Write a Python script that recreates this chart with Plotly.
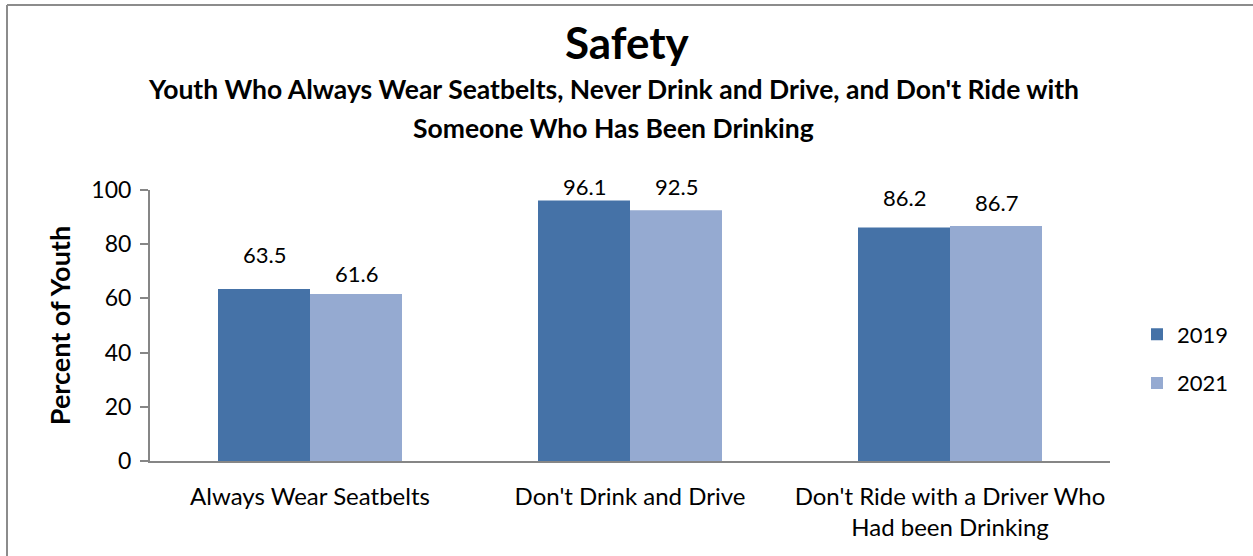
import plotly.graph_objects as go

categories = ["Always Wear Seatbelts", "Don't Drink and Drive", "Don't Ride with a Driver Who<br>Had been Drinking"]
series_names = ["2019", "2021"]
values_2019 = [63.5, 96.1, 86.2]
values_2021 = [61.6, 92.5, 86.7]
y_ticks = [0, 20, 40, 60, 80, 100]

colors = {"2019": "#4572A7", "2021": "#95AAD1"}
FONT = "Lato, 'Open Sans', sans-serif"

# label offsets above bar tops (pixels), styling only
label_lift_2019 = [34, 14, 30]
label_lift_2021 = [21, 24, 24]

# plot-area geometry (pixels)
L, R, T, B = 150, 1110, 190, 461
PH = B - T
PW = R - L

def py(pix):
    return (B - pix) / PH

def px(pix):
    return (pix - L) / PW

fig = go.Figure()
for name, vals in zip(series_names, [values_2019, values_2021]):
    fig.add_trace(go.Bar(
        x=categories, y=vals, name=name,
        marker=dict(color=colors[name], line=dict(width=0)),
        legendgroup=name,
    ))

annotations = []
for vals, lifts, shift in [(values_2019, label_lift_2019, -46), (values_2021, label_lift_2021, 46)]:
    for c, v, lift in zip(categories, vals, lifts):
        annotations.append(dict(
            x=c, y=v, xref="x", yref="y", text=f"{v:.1f}", showarrow=False,
            xshift=shift, yshift=lift, yanchor="middle",
            font=dict(size=22, color="#000000", family=FONT),
        ))

annotations.append(dict(
    x=px(627), y=py(42), xref="paper", yref="paper",
    text="<b>Safety</b>", showarrow=False,
    font=dict(size=44, color="#000000", family=FONT), yanchor="middle",
))
annotations.append(dict(
    x=px(613), y=py(89), xref="paper", yref="paper",
    text="<b>Youth Who Always Wear Seatbelts, Never Drink and Drive, and Don't Ride with</b>",
    showarrow=False, font=dict(size=26.5, color="#000000", family=FONT), yanchor="middle",
))
annotations.append(dict(
    x=px(613), y=py(128), xref="paper", yref="paper",
    text="<b>Someone Who Has Been Drinking</b>",
    showarrow=False, font=dict(size=26.5, color="#000000", family=FONT), yanchor="middle",
))

fig.update_layout(
    width=1253, height=556,
    margin=dict(l=L, r=1253 - R, t=T, b=556 - B),
    paper_bgcolor="white", plot_bgcolor="white",
    barmode="group", bargap=0.425, bargroupgap=0,
    font=dict(family=FONT, size=18, color="#000000"),
    showlegend=True,
    legend=dict(
        x=px(1137), y=py(359), xanchor="left", yanchor="middle",
        font=dict(size=22, family=FONT, color="#000000"),
        traceorder="grouped", tracegroupgap=17,
        itemwidth=30, bgcolor="rgba(0,0,0,0)",
    ),
    annotations=annotations,
    shapes=[
        dict(type="line", xref="paper", yref="paper",
             x0=px(7), x1=px(7), y0=py(5), y1=py(600),
             line=dict(color="#8C8C8C", width=2)),
        dict(type="line", xref="paper", yref="paper",
             x0=px(7), x1=px(1260), y0=py(5), y1=py(5),
             line=dict(color="#8C8C8C", width=2)),
    ],
)
fig.update_xaxes(
    showline=True, linecolor="#868686", linewidth=2, ticks="", showgrid=False,
    tickfont=dict(size=24, family=FONT), ticklabelstandoff=13, automargin=False,
)
fig.update_yaxes(
    range=[0, 100], tickvals=y_ticks, showline=True, linecolor="#868686", linewidth=2,
    ticks="outside", ticklen=8, tickcolor="#868686", tickwidth=2, showgrid=False,
    tickfont=dict(size=23, family=FONT), ticklabelstandoff=4, automargin=False,
    title=dict(text="<b>Percent of Youth</b>", font=dict(size=27, family=FONT), standoff=13),
    zeroline=False,
)
fig.write_html("out.html", config={"displayModeBar": False},
               post_script="document.body.style.margin='0px';")
